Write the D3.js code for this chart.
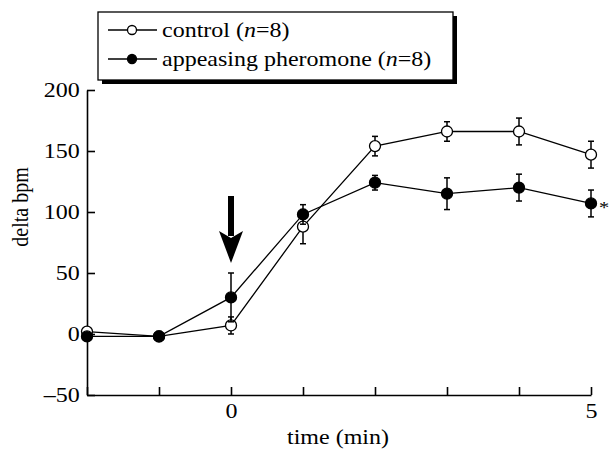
<!DOCTYPE html>
<html>
<head>
<meta charset="utf-8">
<script src="https://cdn.jsdelivr.net/npm/d3@7"></script>
<style>
  body { margin: 0; background: #fff; }
  svg { font-family: "Liberation Serif", "Times New Roman", serif; }
</style>
</head>
<body>
<div id="chart"></div>
<script>
const times = [-2, -1, 0, 1, 2, 3, 4, 5];
const controlMean = [2, -2, 7, 88, 154, 166, 166, 147];
const controlErr = [0, 4, 7, 14, 8, 8, 11, 11];
const pheromoneMean = [-2, -2, 30, 98, 124, 115, 120, 107];
const pheromoneErr = [0, 4, 20, 8, 6, 13, 11, 11];
const yTicks = [-50, 0, 50, 100, 150, 200];
const xTickLabels = { 0: '0', 5: '5' };

const width = 611, height = 453;
const fontSize = '20px';
// the original type is a bit wide, so stretch text horizontally
const stretch = 'scale(1.2,1)';

const svg = d3.select('#chart')
  .append('svg')
    .attr('width', width)
    .attr('height', height);

const x = d3.scaleLinear().domain([-2, 5]).range([87, 591]);
const y = d3.scaleLinear().domain([-50, 200]).range([395, 90]);

// axes, ticks pointing inward
const xAxis = svg.append('g')
  .attr('transform', `translate(0,${y(-50)})`)
  .call(d3.axisBottom(x)
    .tickValues(times)
    .tickSizeInner(-8)
    .tickSizeOuter(0)
    .tickPadding(9)
    .tickFormat(d => xTickLabels[d] || ''));

const yAxis = svg.append('g')
  .attr('transform', `translate(${x(-2)},0)`)
  .call(d3.axisLeft(y)
    .tickValues(yTicks)
    .tickSizeInner(-8)
    .tickSizeOuter(0)
    .tickPadding(6)
    .tickFormat(d => d < 0 ? '\u2013' + Math.abs(d) : d));

[xAxis, yAxis].forEach(a => {
  a.selectAll('path, line').attr('stroke', '#000').attr('stroke-width', 1.6);
  a.selectAll('text')
    .attr('fill', '#000')
    .attr('transform', stretch)
    .style('font-size', fontSize)
    .style('font-family', '"Liberation Serif", "Times New Roman", serif');
});

svg.append('text')
  .attr('transform', `translate(338,444) ${stretch}`)
  .attr('text-anchor', 'middle')
  .style('font-size', fontSize)
  .text('time (min)');

svg.append('text')
  .attr('transform', 'translate(28,207) rotate(-90) scale(1,1.2)')
  .attr('text-anchor', 'middle')
  .style('font-size', fontSize)
  .text('delta bpm');

// arrow marking application
const ax = x(0);
svg.append('rect')
  .attr('x', ax - 3).attr('y', 196)
  .attr('width', 6).attr('height', 40)
  .attr('fill', '#000');
svg.append('path')
  .attr('d', `M${ax - 12},231 L${ax},263 L${ax + 12},231 L${ax},238 Z`)
  .attr('fill', '#000');

const series = [
  { mean: controlMean, err: controlErr, fill: '#fff' },
  { mean: pheromoneMean, err: pheromoneErr, fill: '#000' }
];

const line = d3.line()
  .x((d, i) => x(times[i]))
  .y(d => y(d));

series.forEach(s => {
  const g = svg.append('g');
  g.append('path')
    .attr('d', line(s.mean))
    .attr('fill', 'none')
    .attr('stroke', '#000')
    .attr('stroke-width', 1.3);

  const bars = g.selectAll('.err')
    .data(s.mean.map((m, i) => ({ t: times[i], m, e: s.err[i] })).filter(d => d.e > 0))
    .join('g');
  bars.append('line')
    .attr('x1', d => x(d.t)).attr('x2', d => x(d.t))
    .attr('y1', d => y(d.m - d.e)).attr('y2', d => y(d.m + d.e))
    .attr('stroke', '#000').attr('stroke-width', 1.5);
  [-1, 1].forEach(sign => {
    bars.append('line')
      .attr('x1', d => x(d.t) - 3).attr('x2', d => x(d.t) + 3)
      .attr('y1', d => y(d.m + sign * d.e)).attr('y2', d => y(d.m + sign * d.e))
      .attr('stroke', '#000').attr('stroke-width', 1.5);
  });

  g.selectAll('circle')
    .data(s.mean)
    .join('circle')
      .attr('cx', (d, i) => x(times[i]))
      .attr('cy', d => y(d))
      .attr('r', 5.5)
      .attr('fill', s.fill)
      .attr('stroke', '#000')
      .attr('stroke-width', 1.3);
});

svg.append('text')
  .attr('transform', `translate(${x(5) + 8},${y(pheromoneMean[7]) + 10}) ${stretch}`)
  .attr('fill', '#000')
  .style('font-size', '17px')
  .text('*');

// legend with drop shadow
const legend = svg.append('g');
legend.append('rect')
  .attr('x', 102).attr('y', 16)
  .attr('width', 355).attr('height', 68)
  .attr('fill', '#000');
legend.append('rect')
  .attr('x', 98).attr('y', 12)
  .attr('width', 355).attr('height', 68)
  .attr('fill', '#fff')
  .attr('stroke', '#000')
  .attr('stroke-width', 1.3);

const legendItems = [
  { label: 'control', n: 8, fill: '#fff' },
  { label: 'appeasing pheromone', n: 8, fill: '#000' }
];

legendItems.forEach((d, i) => {
  const cy = 30 + i * 29;
  legend.append('line')
    .attr('x1', 108).attr('x2', 157)
    .attr('y1', cy).attr('y2', cy)
    .attr('stroke', '#000').attr('stroke-width', 1.3);
  legend.append('circle')
    .attr('cx', 132).attr('cy', cy).attr('r', 4.5)
    .attr('fill', d.fill).attr('stroke', '#000').attr('stroke-width', 1.3);
  const t = legend.append('text')
    .attr('transform', `translate(162,${cy + 7}) ${stretch}`)
    .style('font-size', fontSize);
  t.append('tspan').text(d.label + ' (');
  t.append('tspan').style('font-style', 'italic').text('n');
  t.append('tspan').text('=' + d.n + ')');
});
</script>
</body>
</html>
